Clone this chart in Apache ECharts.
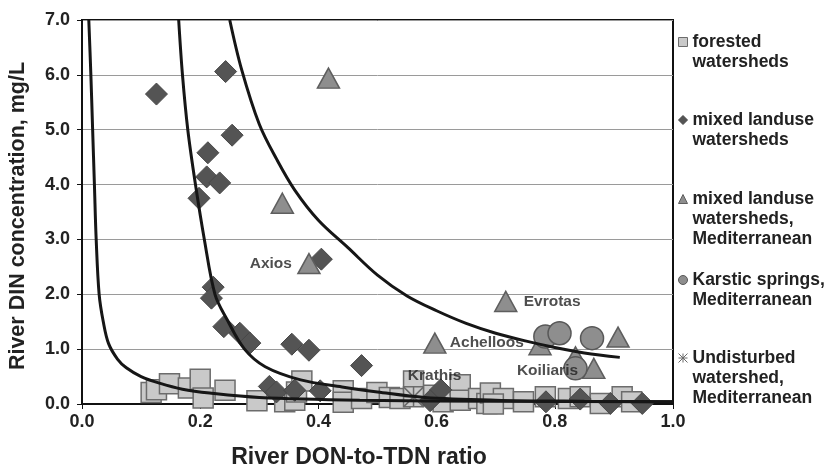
<!DOCTYPE html>
<html lang="en">
<head>
	<meta charset="UTF-8">
	<title>River DIN vs DON-to-TDN ratio</title>
	<style type="text/css">
	html, body {
		margin: 0;
		padding: 0;
		background: #fff;
	}
	.chart {
		width: 827px;
		height: 468px;
	}
	</style>
</head>
<body>
	<div class="chart"></div>

	<script type="text/javascript" src="https://cdn.jsdelivr.net/npm/echarts@6/dist/echarts.min.js"></script>
	<script type="text/javascript">

		// points: [DON/TDN ratio, DIN mg/L]
		var forested = [
			[0.117, 0.21], [0.126, 0.26], [0.148, 0.37], [0.180, 0.29], [0.200, 0.45],
			[0.205, 0.11], [0.242, 0.25], [0.296, 0.06], [0.343, 0.04], [0.360, 0.07],
			[0.363, 0.22], [0.372, 0.42], [0.442, 0.24], [0.442, 0.03], [0.473, 0.10],
			[0.499, 0.21], [0.520, 0.12], [0.538, 0.10], [0.561, 0.42], [0.561, 0.13],
			[0.595, 0.16], [0.611, 0.04], [0.640, 0.35], [0.640, 0.07], [0.671, 0.10],
			[0.685, 0.01], [0.691, 0.20], [0.713, 0.10], [0.696, 0.00], [0.747, 0.04],
			[0.784, 0.13], [0.823, 0.10], [0.843, 0.13], [0.877, 0.01], [0.914, 0.13],
			[0.930, 0.04]
		];
		var mixed = [
			[0.126, 5.65], [0.243, 6.06], [0.254, 4.90], [0.213, 4.58], [0.211, 4.14],
			[0.233, 4.03], [0.198, 3.75], [0.405, 2.64], [0.222, 2.13], [0.219, 1.93],
			[0.240, 1.41], [0.267, 1.29], [0.284, 1.11], [0.355, 1.09], [0.384, 0.98],
			[0.473, 0.70], [0.317, 0.32], [0.329, 0.22], [0.360, 0.25], [0.403, 0.24],
			[0.607, 0.26], [0.589, 0.06], [0.785, 0.04], [0.843, 0.09], [0.894, 0.01],
			[0.948, 0.01]
		];
		var medMixed = [
			[0.417, 5.94], [0.339, 3.66], [0.384, 2.56], [0.717, 1.87], [0.597, 1.11],
			[0.775, 1.08], [0.907, 1.22], [0.866, 0.65], [0.835, 0.86]
		];
		var karstic = [
			[0.784, 1.23], [0.808, 1.29], [0.863, 1.20], [0.835, 0.65]
		];
		var undisturbed = [
			[0.561, 0.13]
		];

		// the three model curves, traced by eye
		var curveLow = [
			[0.0115, 7.0], [0.015, 6.0], [0.018, 5.0], [0.021, 4.0], [0.024, 3.0],
			[0.029, 2.0], [0.036, 1.5], [0.045, 1.1], [0.060, 0.82], [0.075, 0.66],
			[0.100, 0.50], [0.131, 0.38], [0.170, 0.27], [0.216, 0.20], [0.300, 0.12],
			[0.470, 0.07], [0.700, 0.05], [1.000, 0.04]
		];
		var curveMid = [
			[0.1636, 7.0], [0.170, 6.0], [0.179, 5.0], [0.192, 4.0], [0.207, 3.0],
			[0.225, 2.0], [0.245, 1.55], [0.275, 1.0], [0.310, 0.68], [0.370, 0.44],
			[0.440, 0.31], [0.500, 0.22], [0.580, 0.12], [0.700, 0.07], [0.850, 0.05],
			[1.000, 0.04]
		];
		var curveHigh = [
			[0.25, 7.0], [0.27, 6.1], [0.30, 5.1], [0.33, 4.45], [0.36, 3.9],
			[0.40, 3.35], [0.45, 2.85], [0.50, 2.35], [0.55, 1.97], [0.60, 1.70],
			[0.65, 1.47], [0.70, 1.29], [0.75, 1.15], [0.80, 1.03], [0.85, 0.93],
			[0.91, 0.85]
		];

		// river names written next to some of the points
		var riverNames = ['Axios', 'Evrotas', 'Achelloos', 'Koiliaris', 'Krathis'];
		var riverPoints = [medMixed[2], medMixed[3], medMixed[4], karstic[3], undisturbed[0]];

		var xTicks = [0, 0.2, 0.4, 0.6, 0.8, 1.0];
		var yTicks = [0, 1, 2, 3, 4, 5, 6, 7];

		var seriesNames = [
			'forested\nwatersheds',
			'mixed landuse\nwatersheds',
			'mixed landuse\nwatersheds,\nMediterranean',
			'Karstic springs,\nMediterranean',
			'Undisturbed\nwatershed,\nMediterranean'
		];

		var font = '"Liberation Sans", Arial, Helvetica, sans-serif';
		var chart = echarts.init(document.getElementsByClassName('chart')[0]);

		// one legend block per entry; empty lines on top keep the icon on the first text line
		var legendTops = [12, 90, 149, 250, 308];
		var legends = seriesNames.map(function (name, i) {
			return {
				data: [name],
				left: 678,
				top: legendTops[i],
				orient: 'vertical',
				padding: 0,
				itemWidth: 9,
				itemHeight: 9,
				selectedMode: false,
				itemStyle: { borderWidth: 1 },
				formatter: function (n) {
					var extra = n.split('\n').length - 1;
					return new Array(extra + 1).join('\n') + n;
				},
				textStyle: {
					fontFamily: font,
					fontSize: 17.5,
					fontWeight: 'bold',
					color: '#222',
					lineHeight: 20
				}
			};
		});

		function curve (data) {
			return {
				type: 'line',
				data: data,
				smooth: 0.35,
				showSymbol: false,
				symbol: 'none',
				silent: true,
				lineStyle: { color: '#161616', width: 3 },
				z: 3
			};
		}

		var labelData = riverNames.map(function (n, i) {
			return { name: n, value: riverPoints[i] };
		});
		var labelPlace = {
			'Axios': { position: 'left', distance: 7 },
			'Evrotas': { position: 'right', distance: 8 },
			'Achelloos': { position: 'right', distance: 5 },
			'Koiliaris': { position: 'inside', offset: [-28, 2] },
			'Krathis': { position: 'inside', offset: [21, -21] }
		};
		labelData.forEach(function (d) {
			d.label = labelPlace[d.name];
		});

		var option = {
			animation: false,
			backgroundColor: '#fff',
			grid: {
				left: 82,
				top: 20,
				width: 591,
				height: 384,
				outerBoundsMode: 'none',
				show: true,
				borderColor: '#111',
				borderWidth: 2,
				backgroundColor: 'transparent'
			},
			legend: legends,
			xAxis: {
				type: 'value',
				min: xTicks[0],
				max: xTicks[xTicks.length - 1],
				interval: 0.2,
				name: 'River DON-to-TDN ratio',
				nameLocation: 'middle',
				nameGap: 42,
				nameTextStyle: {
					fontFamily: font, fontSize: 23, fontWeight: 'bold', color: '#222',
					padding: [0, 37, 0, 0]
				},
				axisLine: { lineStyle: { color: '#111', width: 2 } },
				axisTick: { length: 5, lineStyle: { color: '#111' } },
				splitLine: { show: false },
				axisLabel: {
					fontFamily: font,
					fontSize: 18,
					fontWeight: 'bold',
					color: '#222',
					margin: 9,
					formatter: function (v) { return v.toFixed(1); }
				}
			},
			yAxis: {
				type: 'value',
				min: yTicks[0],
				max: yTicks[yTicks.length - 1],
				interval: 1,
				name: 'River DIN concentration, mg/L',
				nameLocation: 'middle',
				nameGap: 53,
				nameTextStyle: {
					fontFamily: font, fontSize: 21.5, fontWeight: 'bold', color: '#222',
					padding: [0, 8, 0, 0]
				},
				axisLine: { show: true, lineStyle: { color: '#111', width: 2 } },
				axisTick: { show: true, length: 5, lineStyle: { color: '#111' } },
				splitLine: { show: true, lineStyle: { color: '#9a9a9a', width: 1 } },
				axisLabel: {
					fontFamily: font,
					fontSize: 18,
					fontWeight: 'bold',
					color: '#222',
					margin: 12,
					formatter: function (v) { return v.toFixed(1); }
				}
			},
			series: [
				{
					name: seriesNames[0],
					type: 'scatter',
					data: forested,
					symbol: 'rect',
					symbolSize: 20,
					itemStyle: { color: '#c9c9c9', borderColor: '#6c6c6c', borderWidth: 1.5, opacity: 1 }
				},
				{
					name: seriesNames[1],
					type: 'scatter',
					data: mixed,
					symbol: 'diamond',
					symbolSize: 22,
					itemStyle: { color: '#545454', borderColor: '#484848', borderWidth: 1, opacity: 1 }
				},
				{
					name: seriesNames[2],
					type: 'scatter',
					data: medMixed,
					symbol: 'triangle',
					symbolSize: [22, 20],
					itemStyle: { color: '#8e8e8e', borderColor: '#5e5e5e', borderWidth: 1.5, opacity: 1 }
				},
				{
					name: seriesNames[3],
					type: 'scatter',
					data: karstic,
					symbol: 'circle',
					symbolSize: 23,
					itemStyle: { color: '#8e8e8e', borderColor: '#585858', borderWidth: 1.5, opacity: 1 }
				},
				{
					name: seriesNames[4],
					type: 'scatter',
					data: undisturbed,
					symbol: 'path://M0,0L10,10M10,0L0,10M5,0L5,10M0,5L10,5',
					symbolSize: 20,
					itemStyle: { color: 'rgba(0,0,0,0)', borderColor: '#6a6a6a', borderWidth: 1.5, opacity: 1 }
				},
				curve(curveLow),
				curve(curveMid),
				curve(curveHigh),
				{
					type: 'scatter',
					data: labelData,
					symbolSize: 20,
					silent: true,
					itemStyle: { color: 'rgba(0,0,0,0)' },
					label: {
						show: true,
						formatter: '{b}',
						fontFamily: font,
						fontSize: 15.5,
						fontWeight: 'bold',
						color: '#222'
					},
					z: 10
				}
			]
		};

		chart.setOption(option);

	</script>
</body>
</html>
